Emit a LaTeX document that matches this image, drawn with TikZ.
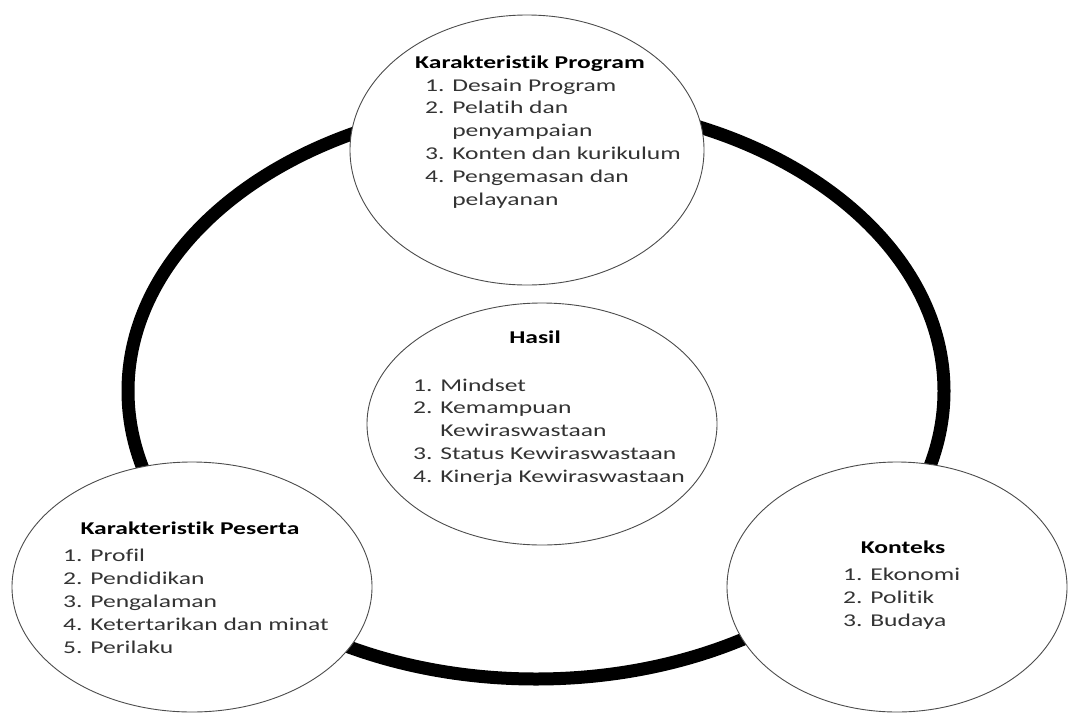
\documentclass[tikz,border=0pt]{standalone}
\usepackage{fontspec}
\setmainfont{Carlito}[FakeStretch=1.42, Ligatures=NoCommon]
\usetikzlibrary{shapes.geometric}
\begin{document}
\begin{tikzpicture}[x=1pt,y=-1pt,
  bubble/.style={ellipse, draw=black!70, line width=0.9pt, fill=white, inner sep=0pt},
  title/.style={anchor=base, inner sep=0pt, font=\fontsize{18}{22.9}\selectfont\bfseries, text=black},
  % lists are anchored at the baseline of their last line
  items/.style={anchor=base west, inner sep=0pt, align=left, font=\fontsize{18}{22.9}\selectfont, text=black!80},
  ring/.style={line width=13pt, draw=black}]
\useasboundingbox[fill=white] (0,0) rectangle (1071,713);

% the thick ring linking the four outer themes
\draw[ring] (536,391) ellipse [x radius=408, y radius=288];

% bubbles
\node[bubble, minimum width=354pt, minimum height=270pt] (prog) at (527,150) {};
\node[bubble, minimum width=350pt, minimum height=242pt] (hasil) at (542,424) {};
\node[bubble, minimum width=360pt, minimum height=250pt] (peserta) at (192,587) {};
\node[bubble, minimum width=340pt, minimum height=250pt] (konteks) at (897,587) {};

% Karakteristik Program
\node[title] (progT) at (530,68) {Karakteristik Program};
\node[items] (progL) at (425,205.5) {1. Desain Program\\2. Pelatih dan\\\hphantom{2. }penyampaian\\3. Konten dan kurikulum\\4. Pengemasan dan\\\hphantom{4. }pelayanan};

% Hasil
\node[title] (hasilT) at (535,343) {Hasil};
\node[items] (hasilL) at (413,482.6) {1. Mindset\\2. Kemampuan\\\hphantom{2. }Kewiraswastaan\\3. Status Kewiraswastaan\\4. Kinerja Kewiraswastaan};

% Karakteristik Peserta
\node[title] (pesertaT) at (190,534) {Karakteristik Peserta};
\node[items] (pesertaL) at (63,653) {1. Profil\\2. Pendidikan\\3. Pengalaman\\4. Ketertarikan dan minat\\5. Perilaku};

% Konteks
\node[title] (konteksT) at (903,553) {Konteks};
\node[items] (konteksL) at (843,626) {1. Ekonomi\\2. Politik\\3. Budaya};
\end{tikzpicture}
\end{document}
